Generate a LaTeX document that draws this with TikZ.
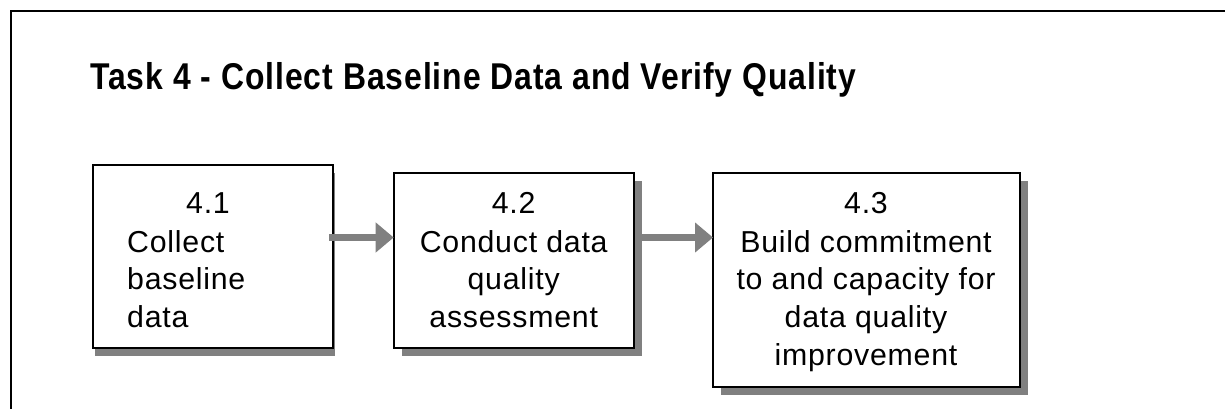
\documentclass[tikz,border=0pt]{standalone}
\usepackage{fontspec}
\usepackage{graphicx}
\setmainfont{Liberation Sans}
\newfontfamily\boxfont[LetterSpace=2.5]{Liberation Sans}
\newfontfamily\headfont[LetterSpace=3]{Liberation Sans}
\usetikzlibrary{arrows.meta,calc}
\definecolor{shadowgray}{RGB}{128,128,128}

\tikzset{
  stepbox/.style={draw=black, line width=2pt, fill=white, rectangle,
    outer sep=0pt, inner sep=0pt, anchor=north west},
  boxshadow/.style={fill=shadowgray},
  boxtext/.style={inner sep=0pt, font=\boxfont\fontsize{30.3}{37.8}\selectfont},
  flow/.style={draw=shadowgray, line width=7pt,
    -{Triangle[length=18pt, width=29pt]}},
}

\begin{document}
\begin{tikzpicture}[x=1pt, y=-1pt]
\useasboundingbox (0,0) rectangle (1225,409);

% open frame: left and top sides only
\draw[line width=2pt] (11,409) -- (11,11.5) -- (1225,11.5);

% heading
\node[anchor=base west, inner sep=0pt] (title) at (90,90)
  {\resizebox{766pt}{\height}{\headfont\bfseries\fontsize{37.3}{44}\selectfont Task 4 - Collect Baseline Data and Verify Quality}};

% drop shadows, each offset down and to the right of its box
\path[boxshadow] (95,172.7) rectangle (335,355.7);
\path[boxshadow] (401.7,181.3) rectangle (641.7,356.3);
\path[boxshadow] (721,181.3) rectangle (1027.7,394.7);

% step boxes
\node[stepbox, minimum width=240pt, minimum height=183pt] (b1) at (93,164.7) {};
\node[stepbox, minimum width=240pt, minimum height=175pt] (b2) at (393.7,173.3) {};
\node[stepbox, minimum width=306.7pt, minimum height=213.4pt] (b3) at (713,173.3) {};

% box texts
\node[boxtext, anchor=base] (n1) at (208,213) {4.1};
\node[boxtext, anchor=base west] (t1a) at (127,252) {Collect};
\node[boxtext, anchor=base west] (t1b) at (127,289.8) {baseline};
\node[boxtext, anchor=base west] (t1c) at (127,327.6) {data};

\node[boxtext, anchor=base] (n2) at (513.7,213) {4.2};
\node[boxtext, anchor=base] (t2a) at (513.7,252) {Conduct data};
\node[boxtext, anchor=base] (t2b) at (513.7,289.8) {quality};
\node[boxtext, anchor=base] (t2c) at (513.7,327.6) {assessment};

\node[boxtext, anchor=base] (n3) at (866,213) {4.3};
\node[boxtext, anchor=base] (t3a) at (866,252) {Build commitment};
\node[boxtext, anchor=base] (t3b) at (866,289.8) {to and capacity for};
\node[boxtext, anchor=base] (t3c) at (866,327.6) {data quality};
\node[boxtext, anchor=base] (t3d) at (866,365.4) {improvement};

% connectors
\coordinate (row) at (0,237.5);
\draw[flow] ($(b1.east |- row)+(-4,0)$) -- (b2.west |- row);
\draw[flow] ($(b2.east |- row)+(8,0)$) -- (b3.west |- row);
\end{tikzpicture}
\end{document}
